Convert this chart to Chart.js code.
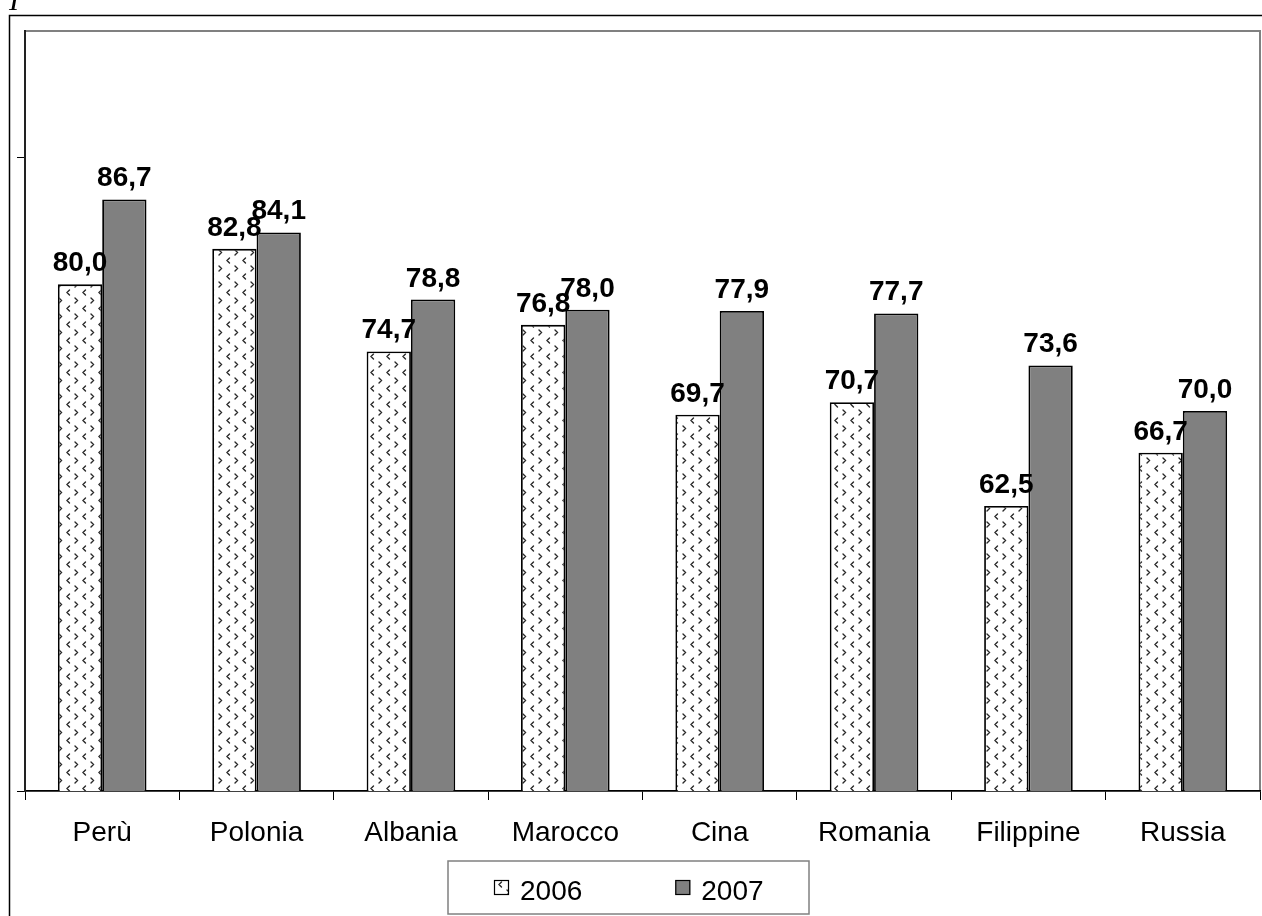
<!DOCTYPE html>
<html>
<head>
<meta charset="utf-8">
<script src="https://cdn.jsdelivr.net/npm/chart.js@4"></script>
<style>
  html, body { margin: 0; padding: 0; background: #fff; overflow: hidden; }
  #wrap { position: relative; width: 1262px; height: 916px; }
  #c { display: block; }
  #mark { position: absolute; left: 9px; top: -17px; font: italic 30px "Liberation Serif", serif; color: #000; }
</style>
</head>
<body>
<div id="wrap">
  <div id="mark">I</div>
  <canvas id="c" width="1262" height="916"></canvas>
</div>
<script>
// Categories and yearly values
const categories = ['Perù', 'Polonia', 'Albania', 'Marocco', 'Cina', 'Romania', 'Filippine', 'Russia'];
const values2006 = [80.0, 82.8, 74.7, 76.8, 69.7, 70.7, 62.5, 66.7];
const values2007 = [86.7, 84.1, 78.8, 78.0, 77.9, 77.7, 73.6, 70.0];
const seriesLabels = ['2006', '2007'];
const yTickValues = [40, 90];
const yMin = 40;
const yMax = 100;

const FONT = '"Liberation Sans", Arial, sans-serif';

// Small chevron texture used for the 2006 series
function makeChevronPattern() {
  const t = document.createElement('canvas');
  t.width = 16; t.height = 16;
  const g = t.getContext('2d');
  g.fillStyle = '#fff';
  g.fillRect(0, 0, 16, 16);
  g.strokeStyle = '#2a2a2a';
  g.lineWidth = 1.4;
  g.lineCap = 'round';
  // "<" mark
  g.beginPath();
  g.moveTo(5.5, 2); g.lineTo(3, 4.5); g.lineTo(5.5, 7);
  g.stroke();
  // ">" mark
  g.beginPath();
  g.moveTo(11, 10); g.lineTo(13.5, 12.5); g.lineTo(11, 15);
  g.stroke();
  return g.createPattern(t, 'repeat');
}

const ctx = document.getElementById('c').getContext('2d');
const pattern2006 = makeChevronPattern();
const fill2007 = '#808080';

const fmt = v => v.toFixed(1).replace('.', ',');

const framePlugin = {
  id: 'frame',
  beforeDraw(chart) {
    const c = chart.ctx;
    const a = chart.chartArea;
    c.save();
    // outer frame
    c.strokeStyle = '#000';
    c.lineWidth = 1.5;
    c.strokeRect(9.5, 15.5, 1400, 1000);
    // plot area border
    c.strokeStyle = '#808080';
    c.lineWidth = 2;
    c.strokeRect(a.left, a.top, a.right - a.left, a.bottom - a.top);
    c.restore();
  },
  afterDatasetsDraw(chart) {
    const c = chart.ctx;
    c.save();
    c.font = 'bold 28px ' + FONT;
    c.fillStyle = '#000';
    c.textAlign = 'center';
    c.textBaseline = 'alphabetic';
    chart.data.datasets.forEach((ds, i) => {
      chart.getDatasetMeta(i).data.forEach((bar, j) => {
        c.fillText(fmt(ds.data[j]), bar.x, bar.y - 13);
      });
    });
    c.restore();
  },
  afterDraw(chart) {
    const c = chart.ctx;
    const box = { left: 448, top: 861, right: 809, bottom: 914 };
    c.save();
    c.strokeStyle = '#808080';
    c.lineWidth = 1.5;
    c.strokeRect(box.left, box.top, box.right - box.left, box.bottom - box.top);
    c.font = '28px ' + FONT;
    c.textBaseline = 'alphabetic';
    c.textAlign = 'left';
    const sw = 15, gapText = 11, gapItems = 93;
    const items = chart.data.datasets.map(ds => ({ label: ds.label, fill: ds.backgroundColor, w: sw + gapText + c.measureText(ds.label).width }));
    const total = items.reduce((s, it) => s + it.w, 0) + gapItems * (items.length - 1);
    let x = Math.round((box.left + box.right) / 2 - total / 2);
    items.forEach(it => {
      c.fillStyle = it.fill;
      c.fillRect(x, 880, sw, sw);
      c.strokeStyle = '#000';
      c.lineWidth = 1.2;
      c.strokeRect(x + 0.5, 880.5, sw - 1, sw - 1);
      c.fillStyle = '#000';
      c.fillText(it.label, x + sw + gapText, 900);
      x += it.w + gapItems;
    });
    c.restore();
  }
};

new Chart(ctx, {
  type: 'bar',
  data: {
    labels: categories,
    datasets: [
      { label: seriesLabels[0], data: values2006, backgroundColor: pattern2006, borderColor: '#000', borderWidth: 1.8, borderSkipped: false },
      { label: seriesLabels[1], data: values2007, backgroundColor: fill2007, borderColor: '#000', borderWidth: 1.8, borderSkipped: false }
    ]
  },
  options: {
    responsive: false,
    animation: false,
    events: [],
    datasets: { bar: { categoryPercentage: 0.574, barPercentage: 1 } },
    layout: { padding: { left: 0, top: 31, right: 2, bottom: 0 } },
    plugins: { legend: { display: false }, tooltip: { enabled: false } },
    scales: {
      x: {
        grid: { display: true, drawOnChartArea: false, drawTicks: true, tickLength: 9, color: '#000', lineWidth: 1 },
        border: { display: true, color: '#000', width: 1.5 },
        ticks: { color: '#000', font: { family: FONT, size: 28 }, padding: 16, maxRotation: 0, autoSkip: false },
        afterFit(s) { s.height = 125; }
      },
      y: {
        min: yMin,
        max: yMax,
        grid: { display: true, drawOnChartArea: false, drawTicks: true, tickLength: 8, color: '#000', lineWidth: 1 },
        border: { display: true, color: '#222', width: 2 },
        ticks: { display: false },
        afterBuildTicks(s) { s.ticks = yTickValues.map(v => ({ value: v })); },
        afterFit(s) { s.width = 25; }
      }
    }
  },
  plugins: [framePlugin]
});
</script>
</body>
</html>
